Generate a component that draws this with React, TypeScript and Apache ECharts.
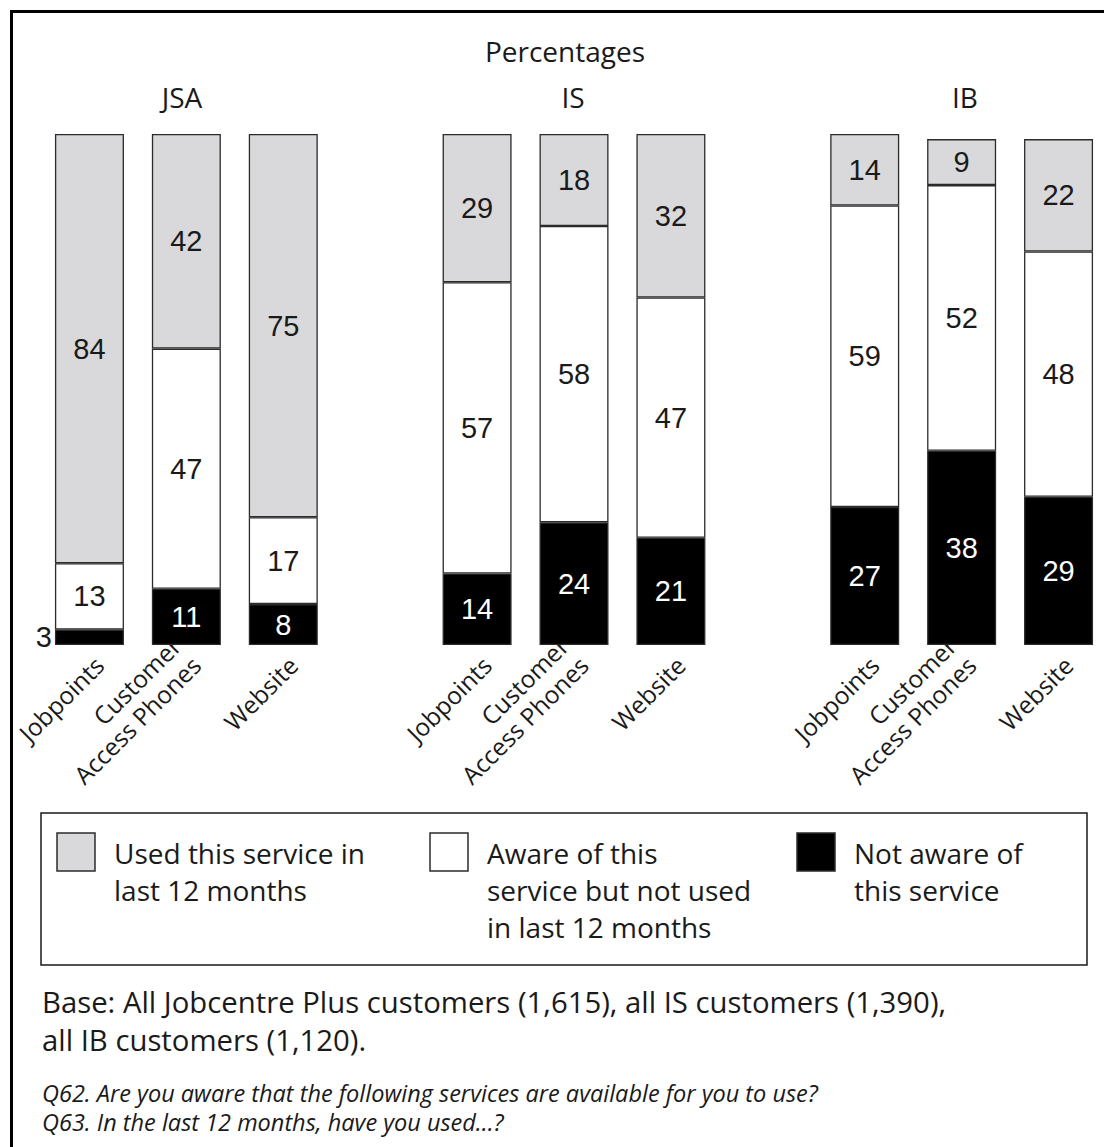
import React, { useEffect, useRef } from "react";
import * as echarts from "echarts";

// ---- Data ----
const groups = ["JSA", "IS", "IB"];
const services = ["Jobpoints", "Customer\nAccess Phones", "Website"];
// values per group, in order Jobpoints, Customer Access Phones, Website
const notAware = [3, 11, 8, 14, 24, 21, 27, 38, 29];
const awareNotUsed = [13, 47, 17, 57, 58, 47, 59, 52, 48];
const usedService = [84, 42, 75, 29, 18, 32, 14, 9, 22];
const seriesNames = [
  "Used this service in last 12 months",
  "Aware of this service but not used in last 12 months",
  "Not aware of this service",
];
const legendLabels = [
  "Used this service in\nlast 12 months",
  "Aware of this\nservice but not used\nin last 12 months",
  "Not aware of\nthis service",
];
const chartTitle = "Percentages";
const baseNote =
  "Base: All Jobcentre Plus customers (1,615), all IS customers (1,390),\nall IB customers (1,120).";
const questionNote =
  "Q62. Are you aware that the following services are available for you to use?\nQ63. In the last 12 months, have you used...?";

const GRAY = "#d9d9db";
const BORDER = "#2b2b2b";
const TEXT = "#1a1a1a";
const SANS = "'Open Sans', 'Noto Sans', sans-serif";
const NUM = "'Liberation Sans Narrow', 'Arial Narrow', 'Liberation Sans', Arial, sans-serif";

function buildCategories(): string[] {
  const out: string[] = [];
  groups.forEach((g, gi) => {
    if (gi > 0) out.push("gap" + gi);
    services.forEach((s) => out.push(g + "|" + s));
  });
  return out;
}

function expand(arr: number[], textColor: string): any[] {
  const out: any[] = [];
  groups.forEach((_, gi) => {
    if (gi > 0) out.push("-");
    for (let k = 0; k < services.length; k++) {
      const v = arr[gi * services.length + k];
      if (v < 5) {
        out.push({
          value: v,
          label: { position: "left", distance: 3, color: TEXT },
        });
      } else {
        out.push({ value: v, label: { color: textColor } });
      }
    }
  });
  return out;
}

export default function App() {
  const ref = useRef<HTMLDivElement>(null);

  useEffect(() => {
    document.body.style.margin = "0";
    if (!ref.current) return;
    const chart = echarts.init(ref.current, undefined, { renderer: "svg" });

    const barLabel = {
      show: true,
      position: "inside",
      fontSize: 29,
      fontFamily: NUM,
    };
    const barCommon = {
      type: "bar",
      stack: "total",
      barWidth: 69,
      itemStyle: { borderColor: BORDER, borderWidth: 1.3 },
    };

    const groupX = [182, 573, 965];
    const legendX = [57, 430, 797];
    const legendColors = [GRAY, "#ffffff", "#000000"];

    const graphic: any[] = [
      {
        type: "rect",
        shape: { x: 11.5, y: 11.5, width: 1200, height: 1200 },
        style: { fill: "none", stroke: "#000", lineWidth: 3 },
        silent: true,
      },
      {
        type: "text",
        x: 565,
        y: 51,
        style: {
          text: chartTitle,
          fontSize: 28,
          fontFamily: SANS,
          fill: TEXT,
          align: "center",
          verticalAlign: "middle",
        },
      },
      ...groups.map((g, i) => ({
        type: "text",
        x: groupX[i],
        y: 97,
        style: {
          text: g,
          fontSize: 28,
          fontFamily: SANS,
          fill: TEXT,
          align: "center",
          verticalAlign: "middle",
        },
      })),
      {
        type: "rect",
        shape: { x: 41, y: 813, width: 1046, height: 152 },
        style: { fill: "none", stroke: TEXT, lineWidth: 1.5 },
      },
      ...legendLabels.flatMap((lab, i) => [
        {
          type: "rect",
          shape: { x: legendX[i], y: 833, width: 38, height: 38 },
          style: { fill: legendColors[i], stroke: BORDER, lineWidth: 1.5 },
        },
        {
          type: "text",
          x: legendX[i] + 57,
          y: 834.5,
          style: {
            text: lab,
            fontSize: 28,
            lineHeight: 37,
            fontFamily: SANS,
            fill: TEXT,
            align: "left",
            verticalAlign: "top",
          },
        },
      ]),
      {
        type: "text",
        x: 42,
        y: 983,
        style: {
          text: baseNote,
          fontSize: 29.3,
          lineHeight: 38,
          fontFamily: SANS,
          fill: TEXT,
          align: "left",
          verticalAlign: "top",
        },
      },
      {
        type: "text",
        x: 42,
        y: 1078.5,
        style: {
          text: questionNote,
          fontSize: 23.5,
          lineHeight: 29,
          fontStyle: "italic",
          fontFamily: SANS,
          fill: TEXT,
          align: "left",
          verticalAlign: "top",
        },
      },
    ];

    chart.setOption({
      animation: false,
      backgroundColor: "#ffffff",
      grid: {
        left: 41,
        top: 134,
        width: 1066,
        height: 511,
        containLabel: false,
        outerBoundsMode: "none",
      },
      xAxis: {
        type: "category",
        data: buildCategories(),
        axisLine: { show: false },
        axisTick: { show: false },
        splitLine: { show: false },
        axisLabel: {
          interval: 0,
          rotate: 45,
          margin: 6,
          fontSize: 24.5,
          lineHeight: 28,
          fontFamily: SANS,
          color: TEXT,
          formatter: (v: string) => {
            if (v.indexOf("|") < 0) return "";
            const lab = v.split("|")[1];
            return lab.indexOf("\n") >= 0 ? lab : "\n" + lab;
          },
        },
      },
      yAxis: {
        type: "value",
        min: 0,
        max: 100,
        show: false,
      },
      series: [
        {
          ...barCommon,
          name: seriesNames[2],
          itemStyle: { ...barCommon.itemStyle, color: "#000000" },
          label: { ...barLabel, color: "#ffffff" },
          data: expand(notAware, "#ffffff"),
        },
        {
          ...barCommon,
          name: seriesNames[1],
          itemStyle: { ...barCommon.itemStyle, color: "#ffffff" },
          label: { ...barLabel, color: TEXT },
          data: expand(awareNotUsed, TEXT),
        },
        {
          ...barCommon,
          name: seriesNames[0],
          itemStyle: { ...barCommon.itemStyle, color: GRAY },
          label: { ...barLabel, color: TEXT },
          data: expand(usedService, TEXT),
        },
      ],
      graphic,
    });

    return () => chart.dispose();
  }, []);

  return <div ref={ref} style={{ width: 1104, height: 1147 }} />;
}
